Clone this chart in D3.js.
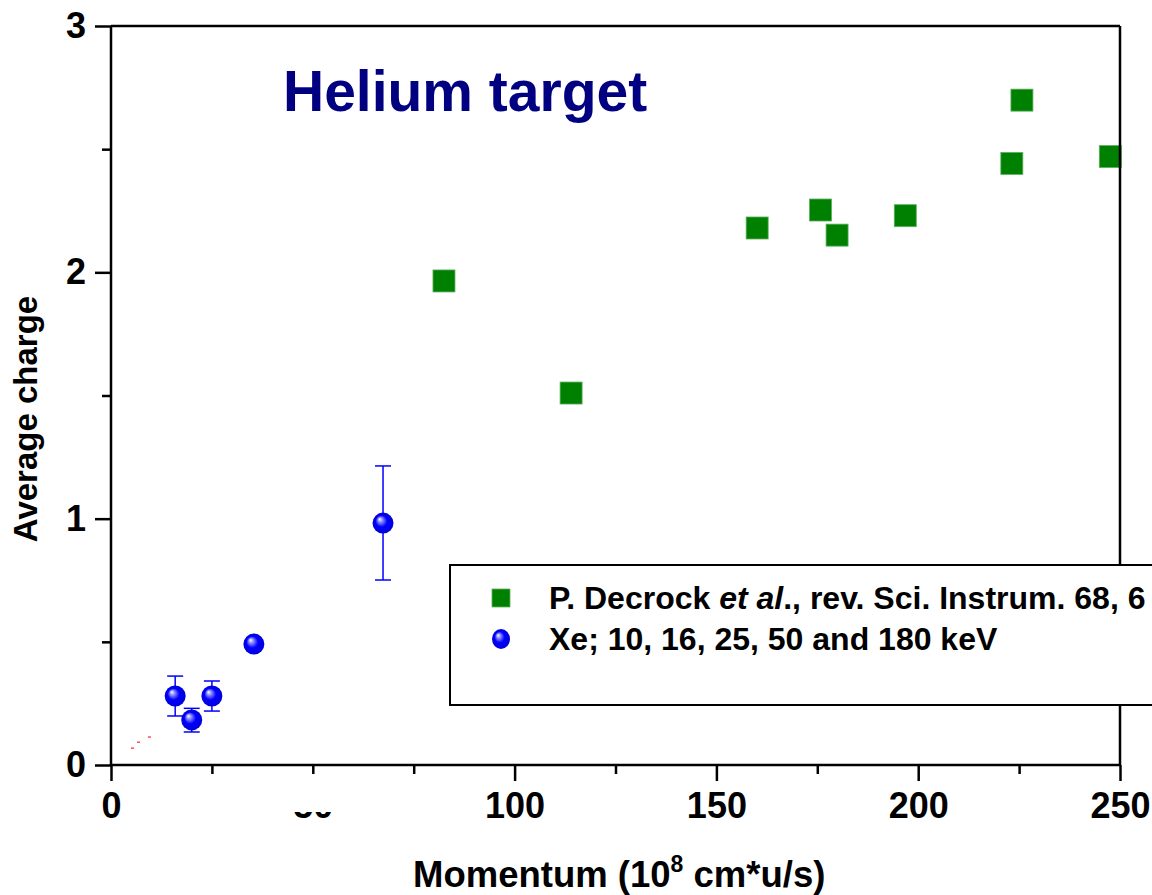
<!DOCTYPE html>
<html>
<head>
<meta charset="utf-8">
<script src="https://cdn.jsdelivr.net/npm/d3@7"></script>
<style>
  body { margin: 0; background: #fff; }
  svg text { font-family: "Liberation Sans", Arial, sans-serif; font-weight: bold; }
</style>
</head>
<body>
<script>
// green squares: P. Decrock et al.
const decrockX = [82.5, 114, 160.1, 175.8, 179.9, 196.8, 223.2, 225.7, 247.6];
const decrockY = [1.965, 1.51, 2.18, 2.253, 2.151, 2.23, 2.442, 2.699, 2.47];

// blue spheres: Xe, with error bars
const xeX = [15.9, 20, 25, 35.4, 67.4];
const xeY = [0.28, 0.183, 0.28, 0.491, 0.982];
const xeLo = [0.199, 0.134, 0.219, 0.485, 0.751];
const xeHi = [0.361, 0.23, 0.341, 0.51, 1.214];

// little red dashes near the origin
const redX = [5.2, 6.7, 9.4];
const redY = [0.069, 0.093, 0.114];

const xMajor = [0, 50, 100, 150, 200, 250];
const xMinor = [25, 75, 125, 175, 225];
const yMajor = [0, 1, 2, 3];
const yMinor = [0.5, 1.5, 2.5];

const width = 1152, height = 895;
const plotLeft = 111, plotRight = 1120, plotTop = 26, plotBottom = 765;

const svg = d3.select("body").append("svg")
    .attr("width", width)
    .attr("height", height);

const x = d3.scaleLinear().domain([0, 250]).range([plotLeft, plotRight]);
const y = d3.scaleLinear().domain([0, 3]).range([plotBottom, plotTop]);

// gradient for the spheres
const defs = svg.append("defs");
const grad = defs.append("radialGradient").attr("id", "ball")
    .attr("cx", "50%").attr("cy", "50%").attr("r", "50%")
    .attr("fx", "33%").attr("fy", "30%");
grad.append("stop").attr("offset", "0%").attr("stop-color", "#ffffff");
grad.append("stop").attr("offset", "22%").attr("stop-color", "#9090ff");
grad.append("stop").attr("offset", "55%").attr("stop-color", "#0000ff");
grad.append("stop").attr("offset", "100%").attr("stop-color", "#0000d8");

// title
svg.append("text")
    .attr("x", 283).attr("y", 111)
    .attr("font-size", 57)
    .attr("fill", "#000080")
    .text("Helium target");

// red dashes
svg.selectAll(".red").data(redX).enter().append("rect")
    .attr("class", "red")
    .attr("x", (d) => x(d) - 1)
    .attr("y", (d, i) => y(redY[i]) - 0.5)
    .attr("width", 3).attr("height", 1.2)
    .attr("fill", "#ff2020");

// green squares
const sq = 22;
svg.selectAll(".sq").data(decrockX).enter().append("rect")
    .attr("class", "sq")
    .attr("x", (d) => x(d) - sq / 2)
    .attr("y", (d, i) => y(decrockY[i]) - sq / 2)
    .attr("width", sq).attr("height", sq)
    .attr("fill", "#008000")
    .attr("stroke", "#5fae5f")
    .attr("stroke-width", 0.8);

// error bars
const err = svg.append("g").attr("stroke", "#0000ff").attr("stroke-width", 1.5);
xeX.forEach((d, i) => {
    err.append("line")
        .attr("x1", x(d)).attr("x2", x(d))
        .attr("y1", y(xeLo[i])).attr("y2", y(xeHi[i]));
    [xeLo[i], xeHi[i]].forEach((v) => {
        err.append("line")
            .attr("x1", x(d) - 8).attr("x2", x(d) + 8)
            .attr("y1", y(v)).attr("y2", y(v));
    });
});

svg.selectAll(".ball").data(xeX).enter().append("circle")
    .attr("class", "ball")
    .attr("cx", (d) => x(d))
    .attr("cy", (d, i) => y(xeY[i]))
    .attr("r", 10.5)
    .attr("fill", "url(#ball)");

// axes
const styleAxis = (g) => {
    g.select(".domain").remove();
    g.selectAll("line").attr("stroke", "#000").attr("stroke-width", 2.5);
    g.selectAll("text").attr("fill", "#000").attr("font-size", 36)
        .attr("font-family", "'Liberation Sans', Arial, sans-serif").attr("font-weight", "bold");
};

svg.append("g").attr("transform", `translate(0, ${plotBottom})`)
    .call(d3.axisBottom(x).tickValues(xMinor).tickSize(9).tickFormat(""))
    .call(styleAxis);
svg.append("g").attr("transform", `translate(0, ${plotBottom})`)
    .call(d3.axisBottom(x).tickValues(xMajor).tickSize(16).tickPadding(11).tickFormat(d3.format("d")))
    .call(styleAxis);

svg.append("g").attr("transform", `translate(${plotLeft}, 0)`)
    .call(d3.axisLeft(y).tickValues(yMinor).tickSize(9).tickFormat(""))
    .call(styleAxis);
svg.append("g").attr("transform", `translate(${plotLeft}, 0)`)
    .call(d3.axisLeft(y).tickValues(yMajor).tickSize(16).tickPadding(9).tickFormat(d3.format("d")))
    .call(styleAxis);

// frame
const frame = svg.append("g").attr("stroke", "#000").attr("stroke-width", 2.5).attr("fill", "none");
frame.append("line").attr("x1", plotLeft).attr("x2", plotLeft).attr("y1", plotTop).attr("y2", plotBottom);
frame.append("line").attr("x1", plotLeft).attr("x2", plotRight).attr("y1", plotBottom).attr("y2", plotBottom);
frame.append("line").attr("x1", plotLeft).attr("x2", plotRight).attr("y1", plotTop).attr("y2", plotTop);
frame.append("line").attr("x1", plotRight).attr("x2", plotRight).attr("y1", plotTop).attr("y2", plotBottom);

// the "50" label is mostly hidden in the original
svg.append("rect")
    .attr("x", 286).attr("y", 774)
    .attr("width", 54).attr("height", 38)
    .attr("fill", "#fff");

// axis titles
const xt = svg.append("text")
    .attr("x", 413).attr("y", 887)
    .attr("font-size", 36.5)
    .attr("fill", "#000");
xt.append("tspan").text("Momentum (10");
xt.append("tspan").attr("font-size", 23).attr("dy", -15).text("8");
xt.append("tspan").attr("dy", 15).text(" cm*u/s)");

svg.append("text")
    .attr("transform", "translate(37, 419) rotate(-90)")
    .attr("text-anchor", "middle")
    .attr("font-size", 33)
    .attr("fill", "#000")
    .text("Average charge");

// legend
const leg = svg.append("g");
leg.append("rect")
    .attr("x", 450).attr("y", 565)
    .attr("width", 760).attr("height", 140)
    .attr("fill", "#fff")
    .attr("stroke", "#000").attr("stroke-width", 2);
leg.append("rect")
    .attr("x", 492).attr("y", 589)
    .attr("width", 18).attr("height", 18)
    .attr("fill", "#008000")
    .attr("stroke", "#5fae5f").attr("stroke-width", 0.8);
leg.append("ellipse")
    .attr("cx", 501).attr("cy", 639)
    .attr("rx", 9).attr("ry", 10)
    .attr("fill", "url(#ball)");

const l1 = leg.append("text")
    .attr("x", 549).attr("y", 609)
    .attr("font-size", 32).attr("fill", "#000");
l1.append("tspan").text("P. Decrock ");
l1.append("tspan").attr("font-style", "italic").text("et al");
l1.append("tspan").text("., rev. Sci. Instrum. 68, 6");

leg.append("text")
    .attr("x", 549).attr("y", 650)
    .attr("font-size", 32).attr("fill", "#000")
    .text("Xe; 10, 16, 25, 50 and 180 keV");
</script>
</body>
</html>
